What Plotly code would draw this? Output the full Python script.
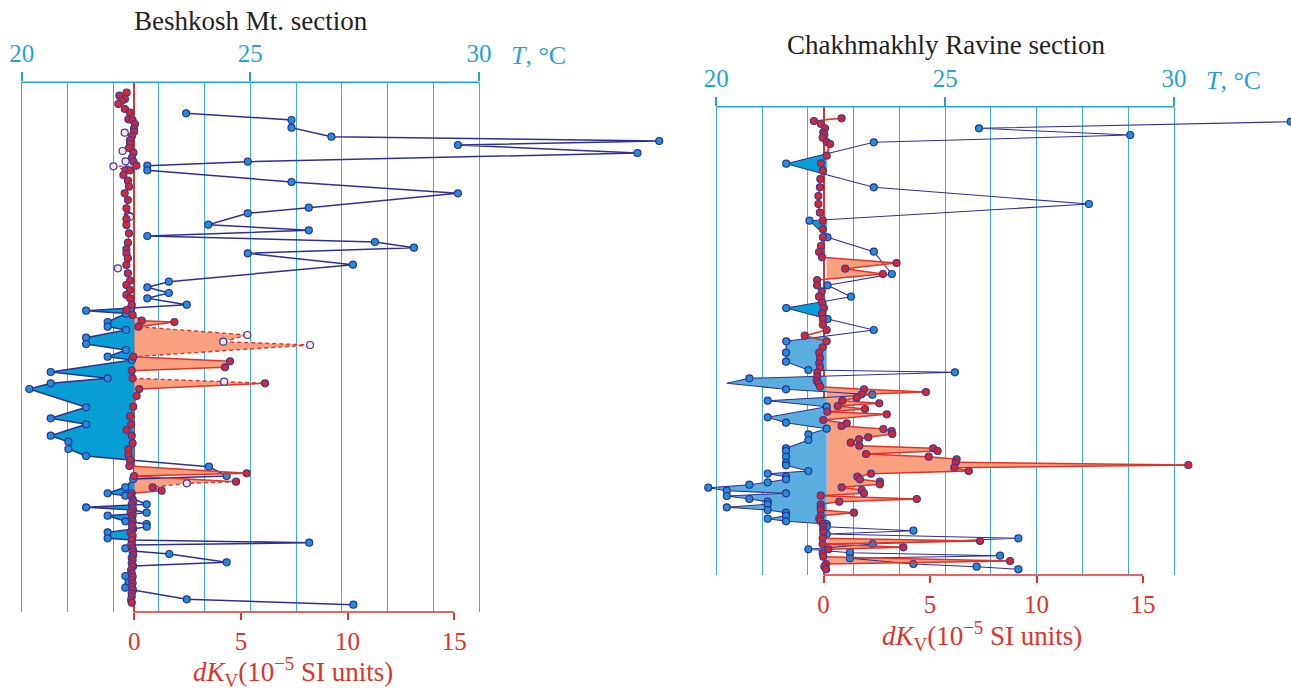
import plotly.graph_objects as go

W, H = 1291, 688
FONT = "Liberation Serif, Times New Roman, serif"
CYAN = "#1fa3d9"
GRID = "#3db0e0"
RED = "#e2322a"
NAVY = "#2e3192"
BLUE_PT = "#1f8fd8"
RED_PT = "#d8262c"
SALMON = "#f9a07f"
BLUE_FILL = "#08a0d4"
BLUE_FILL_LIGHT = "#5aaedf"

# ---------------- Beshkosh Mt. section (left) ----------------
left_blue_depth = [3.10, 3.77, 4.54, 5.44, 5.87, 6.27, 7.07, 7.94, 8.34, 8.80, 9.97, 11.10, 12.54, 13.10,
                   14.24, 14.80, 15.37, 15.97, 16.54, 17.10, 18.24, 19.94, 20.50, 21.07, 21.60, 22.24,
                   22.57, 22.84, 23.12, 23.97, 24.44, 24.77, 25.54, 26.17, 26.77, 27.44, 27.77, 28.97,
                   29.60, 30.10, 30.67, 32.50, 33.60, 34.20, 35.34, 35.94, 36.67, 37.37, 37.77, 38.44,
                   39.37, 39.67, 40.50, 41.10, 41.34, 42.20, 42.50, 42.77, 43.04, 43.34, 43.90, 44.17,
                   44.44, 44.67, 45.00, 45.60, 45.77, 46.04, 46.27, 46.60, 46.87, 47.17, 48.00, 48.37,
                   49.37, 50.54, 50.77, 51.70, 52.24]
left_blue_dk = [2.43, 7.37, 7.37, 9.24, 24.61, 15.17, 23.59, 5.32, 0.61, 0.61, 7.37, 15.17, 8.18, 5.32,
                3.47, 8.18, 0.61, 11.28, 13.11, 5.32, 10.25, 1.62, 0.61, 1.62, 0.61, 2.46,
                -0.15, -2.26, -0.39, -1.25, -1.25, -0.39, -2.26, -2.26, -0.39, -1.25, -0.11, -3.92,
                -1.25, -3.92, -4.92, -2.26, -3.92, -2.26, -3.92, -3.09, -3.09, -2.26, -0.20, 3.50,
                4.33, -0.05, -0.42, -1.25, -0.42, 0.58, -2.26, -0.06, 0.58, -1.25, -0.42, 0.58,
                0.58, -0.06, -1.25, -1.25, -0.11, 8.20, -0.11, -0.42, -0.06, 1.64, 4.33, -0.06,
                -0.42, -0.42, -0.06, 2.46, 10.27]

left_red_depth = [1.04, 1.34, 1.67, 1.87, 2.17, 2.67, 3.04, 3.70, 3.80, 4.17, 4.60, 4.94, 5.04, 5.37,
                  5.77, 6.17, 6.57, 6.87, 7.04, 7.54, 7.90, 7.94, 8.34, 8.40, 8.77, 8.80, 9.27, 9.84,
                  10.44, 11.10, 11.77, 12.60, 13.27, 13.44, 13.67, 14.27, 15.10, 16.04, 16.70, 17.10,
                  17.60, 18.27, 18.60, 19.10, 19.84, 20.27, 20.77, 21.27, 21.60, 22.27, 22.77, 23.27,
                  23.84, 23.97, 24.44, 25.27, 25.94, 26.27, 27.44, 27.90, 28.50, 28.84, 29.60, 29.94,
                  30.10, 30.67, 31.37, 32.44, 33.37, 34.20, 34.77, 35.34, 36.10, 36.70, 37.27, 37.77,
                  38.37, 39.10, 39.37, 39.94, 40.10, 40.50, 40.84, 41.10, 41.37, 41.70, 41.94, 42.20,
                  42.50, 42.77, 43.04, 43.34, 43.64, 43.90, 44.20, 44.44, 44.77, 45.04, 45.34, 45.77,
                  46.27, 46.60, 46.94, 47.27, 47.54, 47.77, 48.10, 48.44, 48.77, 49.10, 49.44, 49.77,
                  50.10, 50.44, 50.77, 51.10, 51.44, 51.77, 52.04]
left_red_dk = [-0.36, -0.70, -0.44, -0.59, -0.75, -0.44, -0.20, -0.28, -0.08, 0.03, -0.01, -0.01, -0.45, -0.11,
               -0.20, -0.20, -0.25, -0.55, -0.04, -0.11, -0.41, -0.04, 0.10, -0.98, -0.41, -0.20, -0.51, -0.30,
               -0.25, -0.45, -0.30, -0.37, -0.30, -0.20, -0.37, -0.37, -0.25, -0.30, -0.37, -0.37,
               -0.30, -0.37, -0.77, -0.30, -0.20, -0.37, -0.20, -0.37, -0.20, -0.12, -0.36, -0.08,
               0.35, 1.88, 0.19, 5.30, 4.17, 8.24, -0.05, 4.49, 4.25, -0.12, -0.08, 4.21,
               6.13, 0.23, 0.11, -0.05, -0.20, -0.15, -0.36, -0.12, -0.08, -0.28, -0.28, -0.20,
               -0.23, 5.27, -0.01, 4.77, 2.46, 0.86, 1.28, -0.12, -0.15, -0.08, -0.05, -0.12,
               -0.08, -0.12, -0.17, -0.08, -0.12, -0.08, -0.12, -0.08, -0.12, -0.17, -0.08, -0.12,
               -0.15, -0.08, -0.08, -0.05, -0.12, -0.08, -0.12, -0.08, -0.15, -0.12, -0.08, -0.12,
               -0.08, -0.12, -0.08, -0.12, -0.12, -0.15, -0.12]
left_red_open = [0, 0, 0, 0, 0, 0, 0, 0, 0, 0, 0, 0, 1, 0,
                 0, 0, 0, 1, 0, 0, 1, 0, 0, 1, 0, 0, 0, 0,
                 0, 0, 0, 0, 0, 1, 0, 0, 0, 0, 0, 0,
                 0, 0, 1, 0, 0, 0, 0, 0, 0, 0, 0, 0,
                 0, 0, 0, 1, 1, 1, 0, 0, 0, 0, 0, 1,
                 0, 0, 0, 0, 0, 0, 0, 0, 0, 0, 0, 0,
                 0, 0, 0, 0, 1, 0, 0, 0, 0, 0, 0, 0,
                 0, 0, 0, 0, 0, 0, 0, 0, 0, 0, 0, 0,
                 0, 0, 0, 0, 0, 0, 0, 0, 0, 0, 0, 0,
                 0, 0, 0, 0, 0, 0, 0]

# ---------------- Chakhmakhly Ravine section (right) ----------------
right_blue_depth = [1.50, 2.16, 2.83, 3.56, 4.70, 5.70, 6.80, 8.06, 9.73, 11.40, 13.06, 14.50, 16.73, 17.86,
                    19.00, 20.13, 21.23, 22.33, 23.46, 24.60, 25.50, 26.33, 26.56, 27.16, 27.66, 28.26,
                    28.80, 29.40, 30.00, 31.06, 31.60, 32.20, 32.76, 33.33, 34.16, 34.43, 35.00, 35.60,
                    35.86, 36.43, 36.70, 37.00, 37.26, 37.56, 37.80, 38.10, 38.40, 38.66, 38.93, 39.23,
                    39.50, 39.76, 40.06, 40.33, 40.60, 40.90, 41.20, 41.46, 41.73, 42.00, 42.40, 42.73,
                    43.16, 43.73, 44.26, 44.60, 44.90, 45.16, 45.73, 46.00, 46.26]
right_blue_dk = [21.94, 7.30, 14.40, 2.36, 0.15, -1.75, 0.15, 2.36, 12.46, -0.66, 0.19, 2.36, 3.21, 0.19,
                 1.29, -1.75, 0.19, 2.36, -1.75, -1.76, -1.76, -0.71, 6.17, -3.48, -4.54, -1.76,
                 2.29, -2.62, 0.15, -2.62, -1.76, 0.15, -0.71, -0.71, -1.76, -1.76, -1.76, -1.76,
                 -1.76, -0.71, -2.62, -1.76, -1.76, -2.62, -3.48, -5.41, -4.54, -1.76, -4.54, -3.48,
                 -2.62, -2.62, -4.54, -2.62, -1.76, -1.76, -2.62, -1.76, 0.15, 0.15, 4.22, 0.15,
                 9.15, 2.31, -0.71, 1.24, 8.29, 1.24, 4.22, 7.19, 9.15]
right_blue_marker = [1, 1, 1, 1, 0, 1, 0, 1, 1, 1, 1, 1, 1, 1,
                     1, 1, 1, 1, 1, 1, 1, 1, 1, 1, 0, 1,
                     1, 1, 1, 1, 1, 1, 1, 1, 1, 1, 1, 1,
                     1, 1, 1, 1, 1, 1, 1, 1, 1, 1, 1, 1,
                     1, 1, 1, 1, 1, 1, 1, 1, 1, 1, 1, 1,
                     1, 1, 1, 1, 1, 1, 1, 1, 1]

right_red_depth = [1.16, 1.43, 1.73, 2.16, 2.56, 2.80, 3.10, 3.53, 3.73, 4.90, 5.66, 6.40, 7.23, 8.06,
                   8.93, 9.73, 10.60, 11.40, 12.26, 13.06, 13.93, 14.53, 15.06, 15.63, 16.20, 16.73,
                   17.33, 17.86, 18.46, 19.00, 19.56, 20.13, 20.66, 21.23, 21.80, 22.33, 22.90, 23.46,
                   24.06, 24.60, 25.16, 25.66, 26.06, 26.60, 27.00, 27.40, 27.66, 28.00, 28.26, 28.53,
                   28.76, 29.10, 29.40, 29.66, 29.93, 30.23, 30.50, 30.76, 31.33, 31.66, 31.93, 32.23,
                   32.43, 32.73, 33.06, 33.26, 33.60, 33.90, 34.16, 34.43, 34.73, 35.00, 35.26, 35.56,
                   35.83, 36.10, 36.43, 36.70, 37.00, 37.26, 37.50, 37.76, 38.06, 38.33, 38.66, 38.90,
                   39.23, 39.50, 39.76, 40.06, 40.33, 40.60, 40.90, 41.20, 41.43, 41.73, 42.00, 42.33,
                   42.60, 43.16, 43.43, 43.73, 44.06, 44.26, 44.66, 45.00, 45.43, 45.73, 46.00, 46.26]
right_red_dk = [0.85, -0.45, -0.12, 0.07, -0.01, 0.04, -0.04, 0.15, 0.31, 0.15, -0.12, -0.03, -0.15, -0.17,
                -0.24, -0.24, -0.17, -0.03, -0.03, -0.03, -0.12, -0.21, -0.07, 3.43, 1.02, 2.79,
                -0.30, -0.30, -0.08, -0.21, -0.07, 0.02, -0.07, -0.03, -0.03, 0.15, -0.88, 0.15,
                -0.04, -0.20, -0.16, -0.20, -0.16, -0.29, -0.29, -0.32, -0.24, -0.16, 1.90, 4.81,
                1.79, 1.56, 0.88, 2.62, 0.67, 1.95, 0.18, 2.97, -0.01, 1.09, 0.85, 2.81,
                3.20, 3.23, 2.10, 1.67, 1.28, 1.68, 5.15, 5.36, 2.00, 4.94, 6.25, 6.21,
                17.13, 6.14, 6.82, 2.23, 1.59, 1.71, 2.65, 2.65, 0.85, 1.79, 1.90, -0.13,
                4.38, 0.74, -0.13, -0.13, -0.13, 1.43, -0.13, -0.20, -0.13, -0.04, -0.01, -0.01,
                -0.01, -0.04, 7.35, -0.04, 3.75, 0.23, -0.04, -0.01, 8.76, 0.12, 0.04, 0.12]

# axis ticks / labels
T_LABELS = [20, 25, 30]
T_GRID = [21, 22, 23, 24, 26, 27, 28, 29]
DK_TICKS = [0, 5, 10, 15]
LEFT_TITLE = "Beshkosh Mt. section"
RIGHT_TITLE = "Chakhmakhly Ravine section"
DK_TITLE = "<i>dK</i><sub>V</sub>(10<sup>\u22125</sup> SI units)"
T_TITLE = "<i>T</i>, \u00b0C"


def clip_runs(xs, ys, base, below):
    def inside(v):
        return v < base if below else v > base
    runs, cur = [], []
    for i in range(len(xs)):
        x, y = xs[i], ys[i]
        if i > 0:
            xp, yp = xs[i - 1], ys[i - 1]
            if inside(xp) != inside(x):
                t = (base - xp) / (x - xp)
                yc = yp + t * (y - yp)
                if inside(xp):
                    cur.append((base, yc))
                    runs.append(cur)
                    cur = []
                else:
                    cur = [(base, yc)]
        if inside(x):
            if not cur:
                cur = [(base, y)]
            cur.append((x, y))
    if cur:
        cur.append((base, cur[-1][1]))
        runs.append(cur)
    return runs


fig = go.Figure()


def add_fill(runs, xa, ya, color_fn):
    for r in runs:
        depths = [p[1] for p in r]
        fig.add_trace(go.Scatter(
            x=[p[0] for p in r], y=depths, xaxis=xa, yaxis=ya,
            mode="lines", fill="toself", fillcolor=color_fn(sum(depths) / len(depths)),
            line=dict(width=0), hoverinfo="skip", showlegend=False))


def add_red(dk, depth, opens, xa, ya, lw):
    sx, sy, dx, dy = [], [], [], []
    for i in range(1, len(dk)):
        seg_x, seg_y = [dk[i - 1], dk[i], None], [depth[i - 1], depth[i], None]
        if opens[i - 1] or opens[i]:
            dx += seg_x; dy += seg_y
        else:
            sx += seg_x; sy += seg_y
    fig.add_trace(go.Scatter(x=sx, y=sy, xaxis=xa, yaxis=ya, mode="lines",
                             line=dict(color=RED, width=lw), hoverinfo="skip", showlegend=False))
    if dx:
        fig.add_trace(go.Scatter(x=dx, y=dy, xaxis=xa, yaxis=ya, mode="lines",
                                 line=dict(color=RED, width=lw, dash="4px,3px"),
                                 hoverinfo="skip", showlegend=False))
    fig.add_trace(go.Scatter(
        x=dk, y=depth, xaxis=xa, yaxis=ya, mode="markers",
        marker=dict(size=7, color=["#fbe3e3" if o else RED_PT for o in opens],
                    line=dict(color="#3b3a9a", width=1.2)),
        name="dK", showlegend=False))


# ---- left panel
add_fill(clip_runs(left_red_dk, left_red_depth, 0.0, False), "x", "y", lambda d: SALMON)
add_fill(clip_runs(left_blue_dk, left_blue_depth, 0.0, True), "x", "y", lambda d: BLUE_FILL)
fig.add_trace(go.Scatter(x=left_blue_dk, y=left_blue_depth, xaxis="x", yaxis="y", mode="lines+markers",
                         line=dict(color=NAVY, width=1.5),
                         marker=dict(size=7, color=BLUE_PT, line=dict(color=NAVY, width=1.2)),
                         showlegend=False))
add_red(left_red_dk, left_red_depth, left_red_open, "x", "y", 1.4)

# ---- right panel
add_fill(clip_runs(right_red_dk, right_red_depth, 0.15, False), "x3", "y2", lambda d: SALMON)
add_fill(clip_runs(right_blue_dk, right_blue_depth, 0.15, True), "x3", "y2",
         lambda d: BLUE_FILL_LIGHT if d > 22.5 else BLUE_FILL)
fig.add_trace(go.Scatter(x=right_blue_dk, y=right_blue_depth, xaxis="x3", yaxis="y2", mode="lines",
                         line=dict(color=NAVY, width=1.1), showlegend=False, hoverinfo="skip"))
fig.add_trace(go.Scatter(x=[v for v, m in zip(right_blue_dk, right_blue_marker) if m],
                         y=[v for v, m in zip(right_blue_depth, right_blue_marker) if m],
                         xaxis="x3", yaxis="y2", mode="markers",
                         marker=dict(size=7, color=BLUE_PT, line=dict(color=NAVY, width=1.2)),
                         showlegend=False))
add_red(right_red_dk, right_red_depth, [0] * len(right_red_dk), "x3", "y2", 1.5)


def dk_axis(domain, rng, anchor):
    return dict(domain=domain, range=rng, anchor=anchor, showgrid=False,
                zeroline=True, zerolinecolor=RED, zerolinewidth=1.5,
                tickmode="array", tickvals=DK_TICKS, ticks="outside", ticklen=7, tickwidth=1.5,
                tickcolor=RED, showline=False, ticklabelstandoff=0,
                tickfont=dict(family=FONT, size=25, color=RED))


def t_axis(domain, rng, anchor, over):
    return dict(domain=domain, range=rng, anchor=anchor, overlaying=over, side="top",
                tickmode="array", tickvals=T_LABELS, ticks="outside", ticklen=9, tickwidth=1.5,
                tickcolor=CYAN, showgrid=True, gridcolor=GRID, gridwidth=1.3, zeroline=False,
                showline=False, ticklabelstandoff=0,
                tickfont=dict(family=FONT, size=25, color=CYAN),
                minor=dict(tickmode="array", tickvals=T_GRID, showgrid=True,
                           gridcolor=GRID, gridwidth=1.3, ticks=""))


LX = [5 / W, 675 / W]
LY = [(H - 612) / H, (H - 82.3) / H]
RX = [690 / W, 1.0]
RY = [(H - 575) / H, (H - 106.7) / H]

fig.update_layout(
    width=W, height=H, autosize=False,
    margin=dict(l=0, r=0, t=0, b=0),
    paper_bgcolor="white", plot_bgcolor="rgba(0,0,0,0)",
    showlegend=False,
    xaxis=dk_axis(LX, [-6.062, 25.349], "y"),
    xaxis2=t_axis(LX, [19.6348, 34.2860], "y", "x"),
    yaxis=dict(domain=LY, range=[52.97, 0], visible=False, showgrid=False, zeroline=False),
    xaxis3=dk_axis(RX, [-6.2676, 21.9484], "y2"),
    xaxis4=t_axis(RX, [19.4254, 32.5563], "y2", "x3"),
    yaxis2=dict(domain=RY, range=[46.83, 0], anchor="x3", visible=False, showgrid=False, zeroline=False),
)

# axis lines limited to the labelled spans
fig.add_shape(type="line", xref="x2", yref="y domain", x0=T_LABELS[0], x1=T_LABELS[-1], y0=1, y1=1,
              line=dict(color=CYAN, width=1.6))
fig.add_shape(type="line", xref="x", yref="y domain", x0=DK_TICKS[0], x1=DK_TICKS[-1], y0=0, y1=0,
              line=dict(color=RED, width=1.6))
fig.add_shape(type="line", xref="x4", yref="y2 domain", x0=T_LABELS[0], x1=T_LABELS[-1], y0=1, y1=1,
              line=dict(color=CYAN, width=1.6))
fig.add_shape(type="line", xref="x3", yref="y2 domain", x0=DK_TICKS[0], x1=DK_TICKS[-1], y0=0, y1=0,
              line=dict(color=RED, width=1.6))


def ann(text, px, py, color, size=27):
    fig.add_annotation(text=text, x=px / W, y=1 - py / H, xref="paper", yref="paper",
                       xanchor="center", yanchor="middle", showarrow=False,
                       font=dict(family=FONT, size=size, color=color))


ann(LEFT_TITLE, 251, 21, "#222222")
ann(RIGHT_TITLE, 946, 45, "#222222")
ann(T_TITLE, 538, 55, CYAN, 26)
ann(T_TITLE, 1233, 81, CYAN, 26)
ann(DK_TITLE, 293, 672, RED)
ann(DK_TITLE, 982, 636, RED)

fig.write_html("out.html", config={"displayModeBar": False},
               post_script="document.body.style.margin='0px';")
